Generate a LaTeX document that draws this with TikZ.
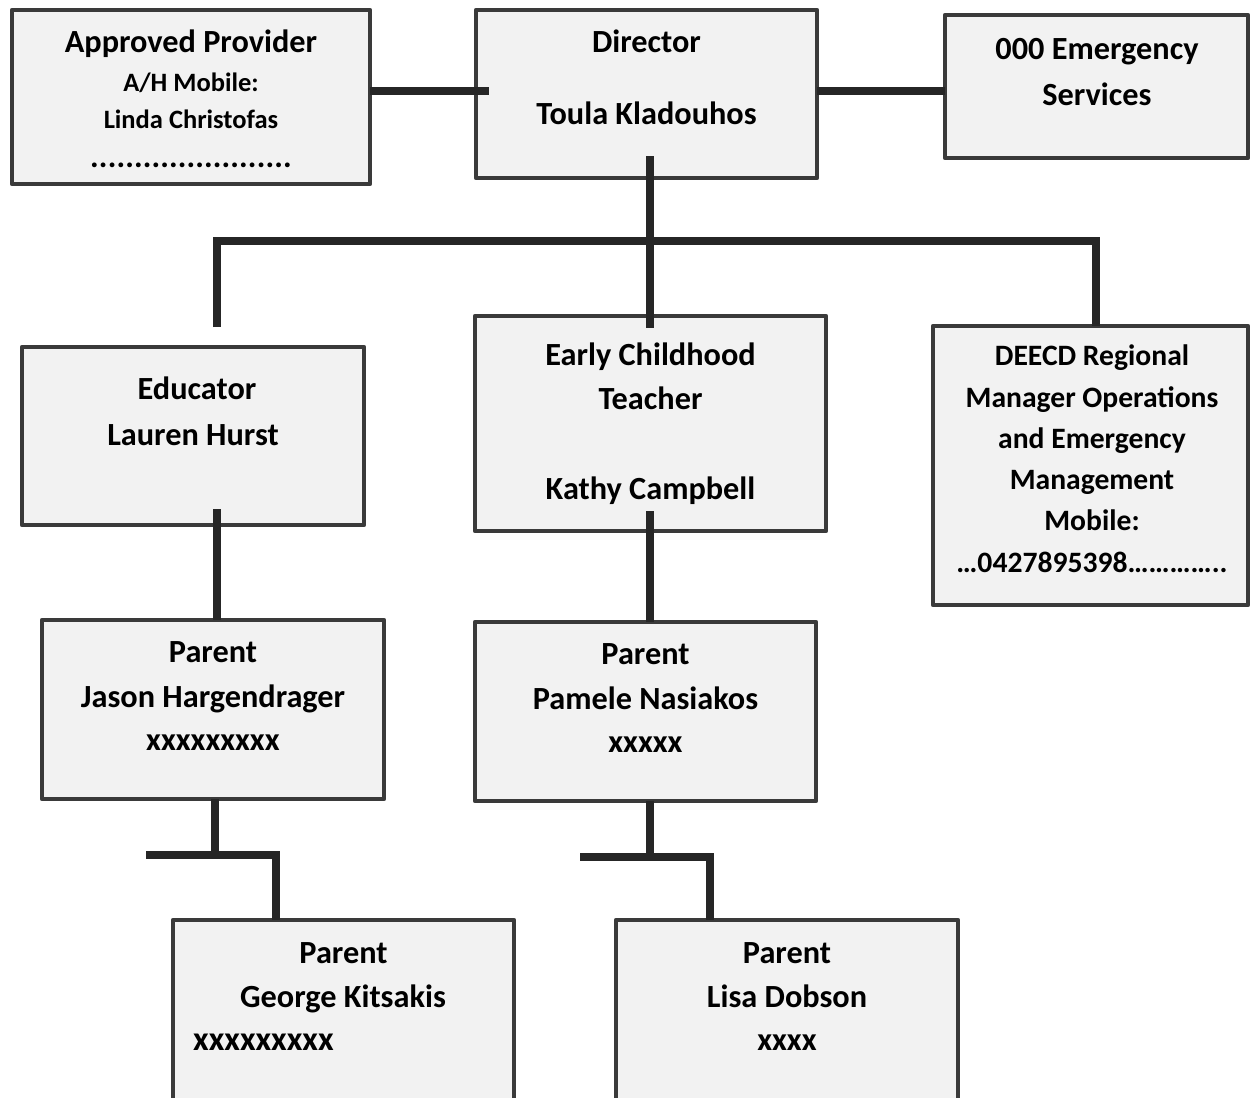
\documentclass[tikz,border=0pt]{standalone}
\usepackage{fontspec}
\setmainfont{Carlito}
\definecolor{boxfill}{HTML}{F2F2F2}
\definecolor{boxline}{HTML}{3A3A3A}
\definecolor{conncol}{HTML}{262626}
\begin{document}
\begin{tikzpicture}[x=1pt,y=-1pt,
  box/.style={draw=boxline, line width=4.5pt, fill=boxfill, inner sep=0pt, outer sep=0pt, line join=round},
  conn/.style={draw=conncol, line width=8pt, line join=miter},
  tl/.style={font=\fontsize{32.3}{38}\selectfont\bfseries, inner sep=0pt, text height=20.8pt, text depth=0pt},
  tx/.style={font=\fontsize{34}{40}\selectfont\bfseries, inner sep=0pt, text height=21.9pt, text depth=0pt},
  tm/.style={font=\fontsize{29.6}{35}\selectfont\bfseries, inner sep=0pt, text height=19pt, text depth=0pt},
  ts/.style={font=\fontsize{26.5}{32}\selectfont\bfseries, inner sep=0pt, text height=17pt, text depth=0pt}]
\useasboundingbox (0,0) rectangle (1252,1097);
\fill[white] (0,0) rectangle (1252,1097);
\clip (0,0) rectangle (1252,1097);

% boxes
\node[box, minimum width=358pt, minimum height=174pt] (ap) at (191,97) {};
\node[box, minimum width=341pt, minimum height=168pt] (dir) at (646.5,94) {};
\node[box, minimum width=303pt, minimum height=143pt] (em) at (1096.5,86.5) {};
\node[box, minimum width=342pt, minimum height=178pt] (edu) at (193,436) {};
\node[box, minimum width=351pt, minimum height=215pt] (ect) at (650.5,423.5) {};
\node[box, minimum width=315pt, minimum height=279pt] (dee) at (1090.5,465.5) {};
\node[box, minimum width=342pt, minimum height=179pt] (p1) at (213,709.5) {};
\node[box, minimum width=341pt, minimum height=179pt] (p2) at (645.5,711.5) {};
\node[box, minimum width=341pt, minimum height=200pt] (p3) at (343.5,1020) {};
\node[box, minimum width=342pt, minimum height=200pt] (p4) at (787,1020) {};

% helper coordinates
\coordinate (toprow) at (0,91);
\coordinate (busL) at (217,241);
\coordinate (busM) at (650,241);
\coordinate (busR) at (1096,241);
\coordinate (j1) at (215,855);
\coordinate (k1L) at (146,855);
\coordinate (k1R) at (275.5,855);
\coordinate (j2) at (650,857);
\coordinate (k2L) at (580,857);
\coordinate (k2R) at (710,857);

% connectors
\draw[conn] (ap.east |- toprow) -- ([xshift=13pt]dir.west |- toprow);
\draw[conn] (dir.east |- toprow) -- (em.west |- toprow);
\draw[conn] ([yshift=22pt]dir.south -| busM) -- ([yshift=-12pt]ect.north -| busM);
\draw[conn] ([yshift=20pt]edu.north -| busL) -- (busL) -- (busR) -- (dee.north -| busR);
\draw[conn] ([yshift=16pt]edu.south -| busL) -- (p1.north -| busL);
\draw[conn] ([yshift=20pt]ect.south -| busM) -- (p2.north -| busM);
\draw[conn] (p1.south -| j1) -- (j1);
\draw[conn] (k1L) -- (k1R) -- (p3.north -| k1R);
\draw[conn] (p2.south -| j2) -- (j2);
\draw[conn] (k2L) -- (k2R) -- (p4.north -| k2R);

% texts
\node[tl] (ap1) at (191,42) {Approved Provider};
\node[ts] (ap2) at (191,83) {A/H Mobile:};
\node[ts] (ap3) at (191,120) {Linda Christofas};
\node[tl, anchor=base] (ap4) at (191,167) {\makebox[202pt]{\xleaders\hbox to 8.42pt{\hss.\hss}\hfill}};

\node[tl] (dir1) at (646.5,42) {Director};
\node[tl] (dir2) at (646.5,114) {Toula Kladouhos};

\node[tl] (em1) at (1097,49) {000 Emergency};
\node[tl] (em2) at (1097,95) {Services};

\node[tl] (edu1) at (197,389) {Educator};
\node[tl] (edu2) at (193,435) {Lauren Hurst};

\node[tl] (ect1) at (650.5,355) {Early Childhood};
\node[tl] (ect2) at (650.5,399) {Teacher};
\node[tl] (ect3) at (650.5,489) {Kathy Campbell};

\node[tm] (dee1) at (1092,356) {DEECD Regional};
\node[tm] (dee2) at (1092,398) {Manager Operations};
\node[tm] (dee3) at (1092,439) {and Emergency};
\node[tm] (dee4) at (1092,480) {Management};
\node[tm] (dee5) at (1092,521) {Mobile:};
\node[tm] (dee6) at (1092,563) {…0427895398…………..};

\node[tl] (p1a) at (213,652) {Parent};
\node[tl] (p1b) at (213,697) {Jason Hargendrager};
\node[tl] (p1c) at (213,740.5) {xxxxxxxxx};

\node[tl] (p2a) at (645.5,654) {Parent};
\node[tl] (p2b) at (645.5,699) {Pamele Nasiakos};
\node[tl] (p2c) at (645.5,742.5) {xxxxx};

\node[tl] (p3a) at (343.5,953) {Parent};
\node[tl] (p3b) at (343,997) {George Kitsakis};
\node[tx, anchor=west] (p3c) at (193,1040) {xxxxxxxxx};

\node[tl] (p4a) at (787,953) {Parent};
\node[tl] (p4b) at (787,997) {Lisa Dobson};
\node[tl] (p4c) at (787,1040.5) {xxxx};
\end{tikzpicture}
\end{document}
